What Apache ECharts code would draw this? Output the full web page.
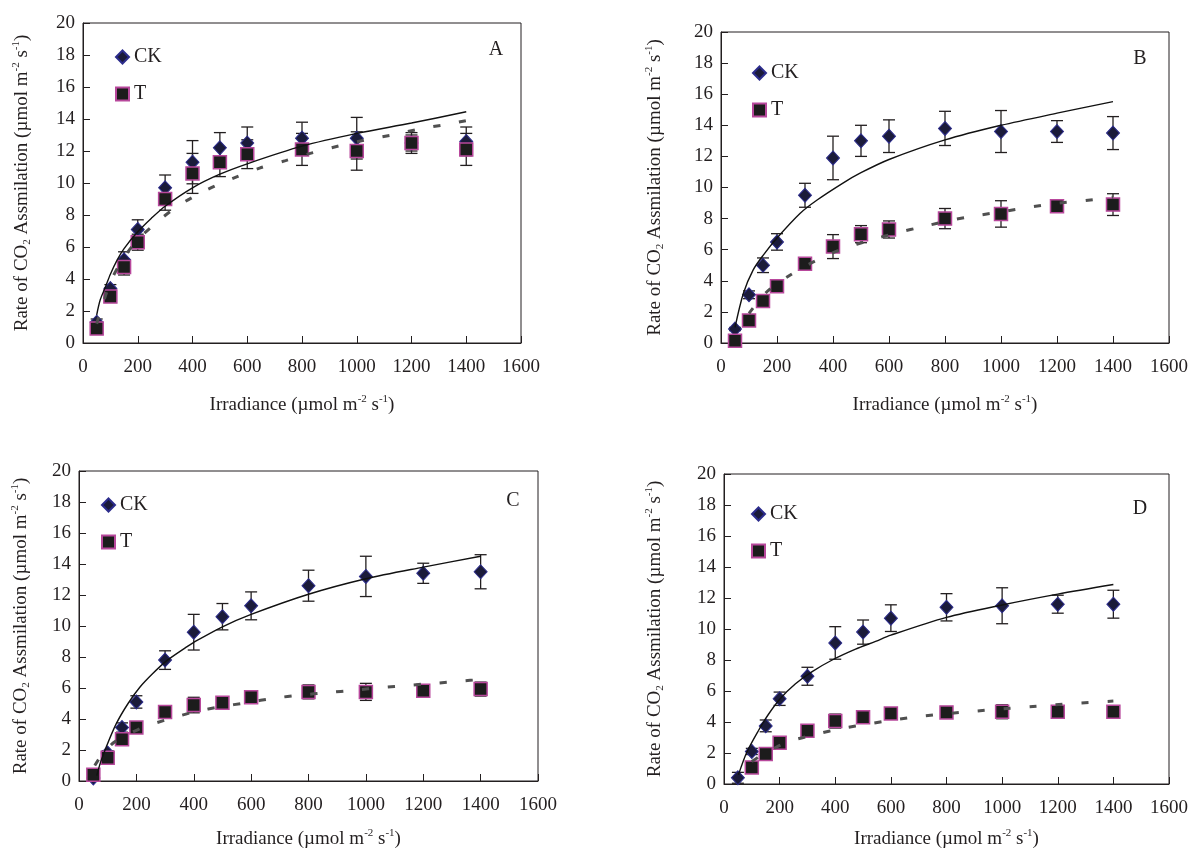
<!DOCTYPE html>
<html>
<head>
<meta charset="UTF-8">
<title>CO2 assimilation light response</title>
<script src="https://cdn.jsdelivr.net/npm/echarts@6/dist/echarts.min.js"></script>
<style>
html, body { margin: 0; padding: 0; background: #fff; }
#main { width: 1191px; height: 852px; }
</style>
</head>
<body>
<div id="main"></div>
<script>
// measured points (irradiance, umol m-2 s-1)
var irradiance = [50, 100, 150, 200, 300, 400, 500, 600, 800, 1000, 1200, 1400];

var ckA    = [1.3, 3.4, 5.2, 7.1, 9.7, 11.3, 12.2, 12.5, 12.8, 12.8, 12.5, 12.6];
var ckAErr = [0.2, 0.25, 0.5, 0.6, 0.8, 1.35, 0.95, 1.0, 1.0, 1.3, 0.5, 0.9];
var tA     = [0.9, 2.9, 4.75, 6.3, 9.0, 10.6, 11.3, 11.8, 12.1, 12.0, 12.5, 12.1];
var tAErr  = [0.2, 0.3, 0.5, 0.5, 0.7, 1.25, 0.9, 0.9, 1.0, 1.2, 0.65, 1.0];

var ckB    = [0.9, 3.1, 5.0, 6.5, 9.5, 11.9, 13.0, 13.3, 13.8, 13.6, 13.6, 13.5];
var ckBErr = [0.1, 0.25, 0.47, 0.53, 0.77, 1.4, 1.0, 1.05, 1.1, 1.35, 0.7, 1.06];
var tB     = [0.15, 1.45, 2.7, 3.65, 5.1, 6.2, 7.0, 7.3, 8.0, 8.3, 8.8, 8.9];
var tBErr  = [0.1, 0.15, 0.2, 0.2, 0.25, 0.77, 0.55, 0.55, 0.65, 0.85, 0.4, 0.7];

var ckC    = [0.2, 1.8, 3.45, 5.1, 7.8, 9.6, 10.6, 11.3, 12.6, 13.2, 13.4, 13.5];
var ckCErr = [0.1, 0.15, 0.3, 0.4, 0.6, 1.15, 0.85, 0.9, 1.0, 1.3, 0.65, 1.1];
var tC     = [0.4, 1.5, 2.7, 3.45, 4.45, 4.9, 5.05, 5.4, 5.75, 5.75, 5.82, 5.93];
var tCErr  = [0.1, 0.1, 0.15, 0.2, 0.3, 0.5, 0.3, 0.35, 0.45, 0.55, 0.2, 0.45];

var ckD    = [0.4, 2.1, 3.75, 5.5, 6.95, 9.1, 9.8, 10.7, 11.4, 11.5, 11.6, 11.6];
var ckDErr = [0.35, 0.2, 0.38, 0.43, 0.58, 1.05, 0.78, 0.86, 0.88, 1.16, 0.58, 0.9];
var tD     = [null, 1.07, 1.93, 2.66, 3.44, 4.06, 4.3, 4.55, 4.62, 4.66, 4.66, 4.66];
var tDErr  = [null, 0.1, 0.12, 0.15, 0.15, 0.45, 0.2, 0.2, 0.15, 0.45, 0.15, 0.15];

// fitted trend lines
var fitCkAX = [50, 63, 82, 100, 125, 150, 200, 250, 300, 400, 500, 600, 800, 1000, 1200, 1400];
var fitCkA  = [1.75, 2.7, 3.5, 4.3, 5.2, 5.9, 6.95, 7.8, 8.55, 9.7, 10.55, 11.2, 12.3, 13.1, 13.75, 14.45];
var fitTAX  = [50, 100, 150, 200, 270, 350, 450, 545, 645, 740, 840, 940, 1035, 1130, 1230, 1330, 1400];
var fitTA   = [1.2, 3.8, 5.35, 6.45, 7.55, 8.6, 9.55, 10.27, 10.93, 11.4, 11.9, 12.34, 12.7, 13.0, 13.38, 13.67, 13.9];

var fitCkBX = [50, 80, 115, 151, 200, 282, 342, 437, 500, 600, 800, 1000, 1200, 1400];
var fitCkB  = [1.0, 3.2, 4.7, 5.65, 6.75, 8.33, 9.18, 10.3, 10.95, 11.8, 13.06, 14.0, 14.78, 15.52];
var fitTBX  = [100, 163, 246, 342, 437, 532, 627, 726, 820, 915, 1010, 1105, 1200, 1300, 1400];
var fitTB   = [1.9, 3.28, 4.36, 5.32, 6.07, 6.6, 7.08, 7.5, 7.9, 8.2, 8.46, 8.74, 8.98, 9.16, 9.38];

var fitCkCX = [62, 75, 95, 130, 171, 212, 258, 305, 375, 400, 500, 600, 800, 1000, 1200, 1400];
var fitCkC  = [0.35, 1.2, 2.2, 3.7, 5.0, 6.05, 6.95, 7.75, 8.65, 8.95, 9.95, 10.75, 12.05, 13.05, 13.8, 14.5];
var fitTCX  = [55, 80, 119, 160, 223, 310, 404, 497, 583, 683, 771, 864, 960, 1055, 1145, 1238, 1335, 1400];
var fitTC   = [1.0, 1.7, 2.45, 2.9, 3.46, 3.98, 4.47, 4.8, 5.05, 5.35, 5.54, 5.7, 5.86, 6.03, 6.17, 6.3, 6.45, 6.55];

var fitCkDX = [52, 82, 124, 160, 202, 256, 317, 389, 473, 545, 600, 800, 1000, 1200, 1400];
var fitCkD  = [0.6, 2.05, 3.45, 4.5, 5.5, 6.45, 7.25, 8.0, 8.7, 9.2, 9.6, 10.75, 11.55, 12.25, 12.87];
var fitTDX  = [100, 130, 180, 232, 329, 425, 521, 615, 711, 810, 903, 1000, 1096, 1184, 1283, 1400];
var fitTD   = [1.45, 1.8, 2.3, 2.73, 3.2, 3.59, 3.88, 4.15, 4.38, 4.55, 4.7, 4.85, 4.98, 5.1, 5.22, 5.35];

var xTicks = [0, 1600, 200];
var yTicks = [0, 20, 2];
var panelLetters = ['A', 'B', 'C', 'D'];

var panels = [
	{ck: ckA, ckErr: ckAErr, t: tA, tErr: tAErr, fitCkX: fitCkAX, fitCk: fitCkA, fitTX: fitTAX, fitT: fitTA},
	{ck: ckB, ckErr: ckBErr, t: tB, tErr: tBErr, fitCkX: fitCkBX, fitCk: fitCkB, fitTX: fitTBX, fitT: fitTB},
	{ck: ckC, ckErr: ckCErr, t: tC, tErr: tCErr, fitCkX: fitCkCX, fitCk: fitCkC, fitTX: fitTCX, fitT: fitTC},
	{ck: ckD, ckErr: ckDErr, t: tD, tErr: tDErr, fitCkX: fitCkDX, fitCk: fitCkD, fitTX: fitTDX, fitT: fitTD}
];

// layout
var grids = [
	{left: 83, top: 23, width: 438, height: 320},
	{left: 721, top: 32, width: 448, height: 311},
	{left: 79, top: 471, width: 459, height: 310},
	{left: 724, top: 474, width: 445, height: 310}
];
var xNameGap = [51, 51, 47, 44];
var yNameGap = [50, 55, 47, 58];
var legendPos = [[110, 42], [747, 58], [96, 490], [746, 499]];
var letterPos = [[496, 50], [1140, 59], [513, 501], [1140, 509]];

var FONT = '"Liberation Serif", "Times New Roman", serif';
var INK = '#231f20';

var myChart = echarts.init(document.getElementById('main'));

function zip(xs, ys, es) {
	var out = [];
	for (var i = 0; i < xs.length; i++) {
		if (ys[i] == null) continue;
		out.push(es ? [xs[i], ys[i], es[i]] : [xs[i], ys[i]]);
	}
	return out;
}

function errRender(params, api) {
	var x = api.value(0), y = api.value(1), e = api.value(2);
	var hi = api.coord([x, y + e]), lo = api.coord([x, y - e]);
	var w = 6;
	function seg(x1, y1, x2, y2) {
		return {type: 'line', shape: {x1: x1, y1: y1, x2: x2, y2: y2},
			style: {stroke: INK, lineWidth: 1.3}};
	}
	return {type: 'group', children: [
		seg(hi[0], hi[1], lo[0], lo[1]),
		seg(hi[0] - w, hi[1], hi[0] + w, hi[1]),
		seg(lo[0] - w, lo[1], lo[0] + w, lo[1])
	]};
}

var richName = {
	sup: {fontSize: 11, fontFamily: FONT, color: INK, verticalAlign: 'top', lineHeight: 22},
	sub: {fontSize: 11, fontFamily: FONT, color: INK, verticalAlign: 'bottom', lineHeight: 22}
};

var xAxes = [], yAxes = [], series = [], legends = [], texts = [];

panels.forEach(function (p, i) {
	xAxes.push({
		type: 'value', gridIndex: i, min: xTicks[0], max: xTicks[1], interval: xTicks[2],
		axisLine: {show: true, lineStyle: {color: INK, width: 1}},
		axisTick: {inside: true, length: 7, lineStyle: {color: INK}},
		axisLabel: {color: INK, fontFamily: FONT, fontSize: 19, margin: 15,
			formatter: function (v) { return String(v); }},
		splitLine: {show: false},
		name: 'Irradiance (µmol m{sup|-2} s{sup|-1})',
		nameLocation: 'middle', nameGap: xNameGap[i],
		nameTextStyle: {color: INK, fontFamily: FONT, fontSize: 19, lineHeight: 22, rich: richName}
	});
	yAxes.push({
		type: 'value', gridIndex: i, min: yTicks[0], max: yTicks[1], interval: yTicks[2],
		axisLine: {show: true, lineStyle: {color: INK, width: 1}},
		axisTick: {inside: true, length: 7, lineStyle: {color: INK}},
		axisLabel: {color: INK, fontFamily: FONT, fontSize: 19, margin: 8,
			formatter: function (v) { return String(v); }},
		splitLine: {show: false},
		name: 'Rate of CO{sub|2} Assmilation (µmol m{sup|-2} s{sup|-1})',
		nameLocation: 'middle', nameGap: yNameGap[i],
		nameTextStyle: {color: INK, fontFamily: FONT, fontSize: 19, lineHeight: 22, rich: richName}
	});

	series.push({
		type: 'custom', xAxisIndex: i, yAxisIndex: i, z: 2,
		renderItem: errRender, data: zip(irradiance, p.ck, p.ckErr)
	});
	series.push({
		type: 'custom', xAxisIndex: i, yAxisIndex: i, z: 2,
		renderItem: errRender, data: zip(irradiance, p.t, p.tErr)
	});
	series.push({
		name: 'CK', type: 'scatter', xAxisIndex: i, yAxisIndex: i, z: 3,
		symbol: 'diamond', symbolSize: [13, 14],
		itemStyle: {color: '#1b1b3a', borderColor: '#2c2c8c', borderWidth: 1, opacity: 1},
		data: zip(irradiance, p.ck)
	});
	series.push({
		name: 'T', type: 'scatter', xAxisIndex: i, yAxisIndex: i, z: 4,
		symbol: 'rect', symbolSize: 13,
		itemStyle: {color: '#1c1c1c', borderColor: '#b8489c', borderWidth: 1.5, opacity: 1},
		data: zip(irradiance, p.t)
	});
	series.push({
		name: 'CK fit', type: 'line', xAxisIndex: i, yAxisIndex: i, z: 5,
		smooth: 0.3, showSymbol: false, silent: true,
		lineStyle: {color: '#111', width: 1.4},
		data: zip(p.fitCkX, p.fitCk)
	});
	series.push({
		name: 'T fit', type: 'line', xAxisIndex: i, yAxisIndex: i, z: 5,
		smooth: 0.3, showSymbol: false, silent: true,
		lineStyle: {color: '#505050', width: 3, type: [7, 19]},
		data: zip(p.fitTX, p.fitT)
	});

	legends.push({
		orient: 'vertical', left: legendPos[i][0], top: legendPos[i][1],
		itemWidth: 13, itemHeight: 13, itemGap: 17, selectedMode: false,
		textStyle: {color: INK, fontFamily: FONT, fontSize: 20},
		data: [{name: 'CK', icon: 'diamond'}, {name: 'T', icon: 'rect'}]
	});

	texts.push({
		type: 'text', x: letterPos[i][0], y: letterPos[i][1],
		style: {text: panelLetters[i], fill: INK, font: '20px ' + FONT,
			textAlign: 'center', textVerticalAlign: 'middle'}
	});
});

var option = {
	animation: false,
	backgroundColor: '#fff',
	grid: grids.map(function (g) {
		return {left: g.left, top: g.top, width: g.width, height: g.height,
			show: true, borderColor: INK, borderWidth: 1, containLabel: false};
	}),
	xAxis: xAxes,
	yAxis: yAxes,
	legend: legends,
	graphic: texts,
	series: series
};

myChart.setOption(option);
</script>
</body>
</html>
